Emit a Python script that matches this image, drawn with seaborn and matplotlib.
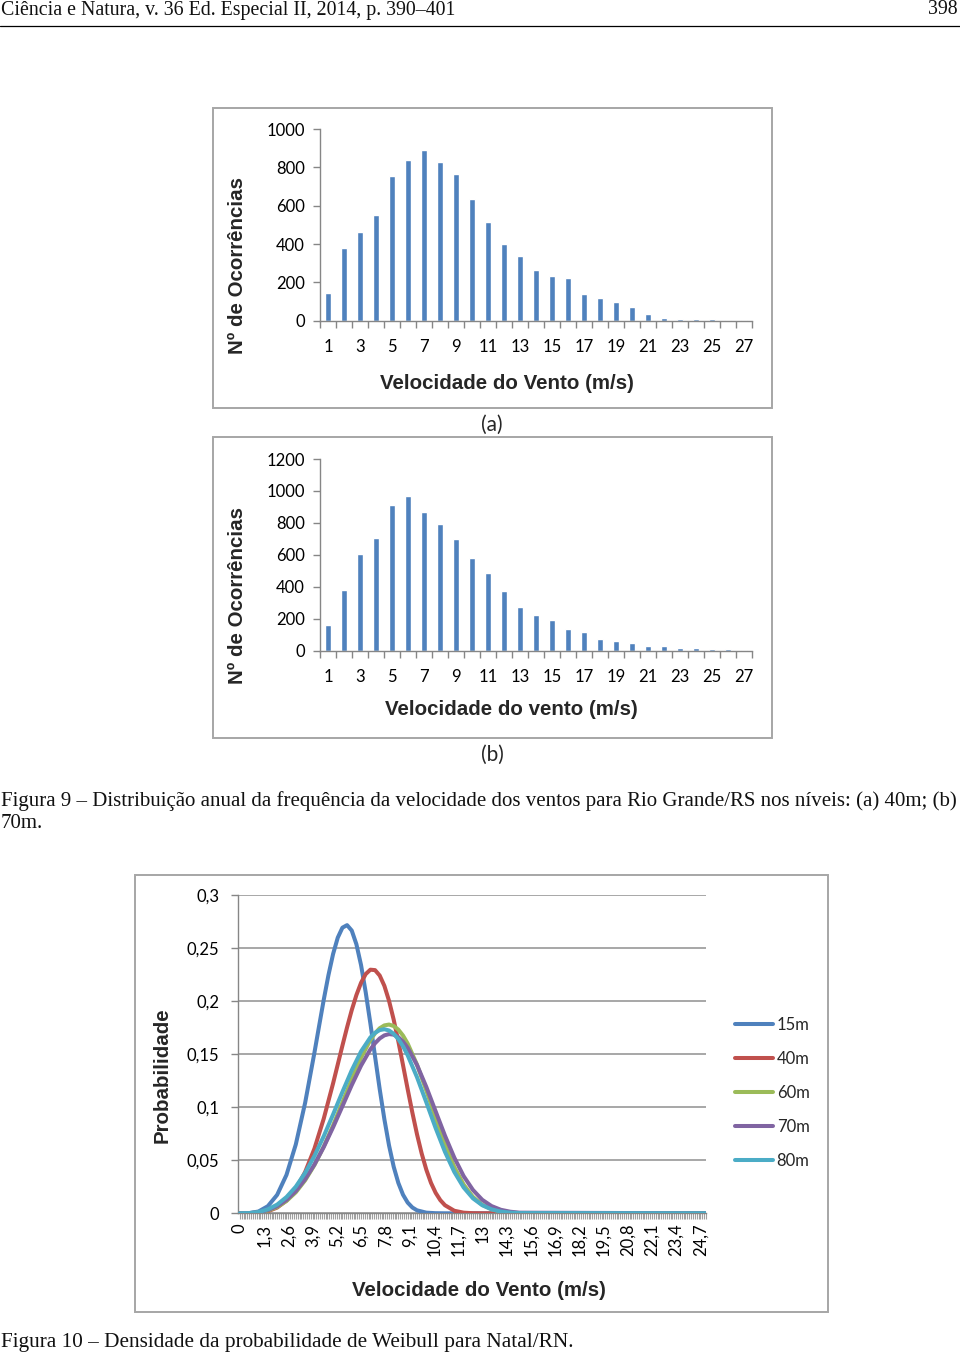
import numpy as np
import pandas as pd
import matplotlib
matplotlib.use("Agg")
import matplotlib.pyplot as plt
import seaborn as sns
from matplotlib.patches import Rectangle
from matplotlib.lines import Line2D

# ---------------- data ----------------
vel_classes = ["1", "2", "3", "4", "5", "6", "7", "8", "9", "10", "11", "12", "13", "14",
               "15", "16", "17", "18", "19", "20", "21", "22", "23", "24", "25", "26", "27"]
ocorr_40m = [144, 381, 463, 551, 753, 838, 890, 826, 767, 633, 515, 400, 336, 264,
             233, 224, 139, 117, 97, 70, 37, 16, 10, 7, 8, 4, 2]
ocorr_70m = [158, 381, 608, 704, 910, 967, 867, 792, 698, 583, 487, 375, 273, 225,
             194, 133, 117, 75, 60, 50, 27, 27, 19, 19, 10, 8, 2]
bar_tick_labels = ["1", "3", "5", "7", "9", "11", "13", "15", "17", "19", "21", "23", "25", "27"]
ticks_a = [0, 200, 400, 600, 800, 1000]
ticks_b = [0, 200, 400, 600, 800, 1000, 1200]

# Weibull density curves (Natal/RN)
vel_15m = [0, 0.5, 1, 1.5, 2, 2.5, 3, 3.5, 4,
           4.25, 4.5, 4.75, 5, 5.25, 5.5, 5.75, 6, 6.25, 6.5, 6.75, 7, 7.25, 7.5, 7.75,
           8, 8.25, 8.5, 8.75, 9, 9.25,
           9.5, 10, 10.5, 11, 25]
prob_15m = [0, 0.0002, 0.0017, 0.0067, 0.0174, 0.0362, 0.0649, 0.1041, 0.1515,
            0.1766, 0.2014, 0.2244, 0.2444, 0.2598, 0.2692, 0.2716, 0.2665, 0.2536, 0.2339,
            0.2082, 0.1789, 0.1478, 0.1170, 0.0887, 0.0640, 0.0439, 0.0286, 0.0175, 0.0101,
            0.0055,
            0.0028, 0.0006, 0.0001, 0, 0]
vel_40m = [0, 0.5, 1, 1.5, 2, 2.5, 3, 3.5, 4, 4.5, 5, 5.5,
           5.75, 6, 6.25, 6.5, 6.75, 7, 7.25, 7.5, 7.75, 8, 8.25, 8.5, 8.75, 9, 9.25, 9.5,
           9.75, 10, 10.25, 10.5, 10.75,
           11, 11.5, 12, 12.5, 13, 25]
prob_40m = [0, 0.0000, 0.0005, 0.0019, 0.0054, 0.0120, 0.0228, 0.0389, 0.0610, 0.0893,
            0.1225, 0.1580,
            0.1753, 0.1915, 0.2057, 0.2173, 0.2255, 0.2296, 0.2292, 0.2241, 0.2144, 0.2003,
            0.1825, 0.1620, 0.1397, 0.1170, 0.0950, 0.0745, 0.0564, 0.0411, 0.0287, 0.0193,
            0.0124,
            0.0076, 0.0024, 0.0006, 0.0001, 0, 0]
vel_alt = [0, 0.5, 1, 1.5, 2, 2.5, 3, 3.5, 4, 4.5, 5, 5.5, 6, 6.5, 7,
           7.25, 7.5, 7.75, 8, 8.25, 8.5, 8.75, 9,
           9.5, 10, 10.5, 11, 11.5, 12, 12.5, 13, 13.5, 14, 14.5, 15, 25]
prob_60m = [0, 0.0001, 0.0007, 0.0025, 0.0059, 0.0116, 0.0198, 0.0311, 0.0455, 0.0629,
            0.0829, 0.1045, 0.1264, 0.1467, 0.1634,
            0.1697, 0.1744, 0.1771, 0.1779, 0.1765, 0.1731, 0.1675, 0.1600,
            0.1401, 0.1157, 0.0897, 0.0649, 0.0436, 0.0271, 0.0154, 0.0080, 0.0038, 0.0016,
            0.0006, 0.0002, 0]
prob_70m = [0, 0.0001, 0.0009, 0.0030, 0.0067, 0.0126, 0.0209, 0.0321, 0.0460, 0.0625,
            0.0811, 0.1009, 0.1208, 0.1392, 0.1545,
            0.1603, 0.1648, 0.1677, 0.1689, 0.1684, 0.1660, 0.1618, 0.1560,
            0.1398, 0.1191, 0.0961, 0.0732, 0.0525, 0.0351, 0.0220, 0.0127, 0.0068, 0.0033,
            0.0015, 0.0006, 0]
prob_80m = [0, 0.0002, 0.0012, 0.0037, 0.0082, 0.0153, 0.0251, 0.0381, 0.0541, 0.0727,
            0.0932, 0.1144, 0.1348, 0.1526, 0.1658,
            0.1701, 0.1727, 0.1735, 0.1723, 0.1692, 0.1642, 0.1574, 0.1489,
            0.1283, 0.1046, 0.0803, 0.0579, 0.0390, 0.0244, 0.0141, 0.0076, 0.0037, 0.0016,
            0.0006, 0.0002, 0]
alturas = ["15m", "40m", "60m", "70m", "80m"]
weib_xticks = [0, 1.3, 2.6, 3.9, 5.2, 6.5, 7.8, 9.1, 10.4, 11.7, 13, 14.3, 15.6, 16.9,
               18.2, 19.5, 20.8, 22.1, 23.4, 24.7]
weib_xticklabels = ["0", "1,3", "2,6", "3,9", "5,2", "6,5", "7,8", "9,1", "10,4", "11,7", "13",
                    "14,3", "15,6", "16,9", "18,2", "19,5", "20,8", "22,1", "23,4", "24,7"]
weib_yticks = [0, 0.05, 0.1, 0.15, 0.2, 0.25, 0.3]
weib_yticklabels = ["0", "0,05", "0,1", "0,15", "0,2", "0,25", "0,3"]

# ---------------- style ----------------
sns.set_theme(style="ticks")
TICKF = ["Lato", "DejaVu Sans"]
TITLEF = ["Liberation Sans", "DejaVu Sans"]
SERIF = ["Liberation Serif", "DejaVu Serif"]
plt.rcParams["font.family"] = TICKF
BLUE = "#4f81bd"
GRAY = "#868686"
FRAME = "#a6a6a6"
palette = {"15m": "#4f81bd", "40m": "#c0504d", "60m": "#9bbb59", "70m": "#8064a2", "80m": "#4bacc6"}

W, H = 960, 1357
fig = plt.figure(figsize=(W / 100, H / 100), dpi=100)
fig.patch.set_facecolor("white")


def rect(x0, y_top, x1, y_bot):
    return [x0 / W, 1 - y_bot / H, (x1 - x0) / W, (y_bot - y_top) / H]


def frame(x0, y0, x1, y1):
    fig.add_artist(Rectangle((x0 / W, 1 - y1 / H), (x1 - x0) / W, (y1 - y0) / H,
                             transform=fig.transFigure, fill=False, edgecolor=FRAME, lw=1.4))


def bar_panel(box, values, yticks, xlabel, xl_x, yl_y):
    ax = fig.add_axes(box)
    df = pd.DataFrame({"vel": vel_classes, "n": values})
    sns.barplot(data=df, x="vel", y="n", order=vel_classes, color=BLUE, saturation=1,
                width=0.38, ax=ax)
    ax.set_xlim(-0.5, 26.5)
    ax.set_ylim(0, yticks[-1])
    for s in ["top", "right"]:
        ax.spines[s].set_visible(False)
    for s in ["left", "bottom"]:
        ax.spines[s].set_color(GRAY)
        ax.spines[s].set_linewidth(1.0)
    ax.set_yticks(yticks)
    ax.set_yticklabels([str(t) for t in yticks])
    ax.tick_params(axis="y", direction="out", length=5, width=1, color=GRAY, pad=6,
                   labelsize=12, labelcolor="black", left=True)
    ax.set_xticks(list(range(0, 27, 2)))
    ax.set_xticklabels(bar_tick_labels)
    ax.tick_params(axis="x", which="major", length=0, pad=13, labelsize=12, labelcolor="black")
    ax.set_xticks([i - 0.5 for i in range(28)], minor=True)
    ax.tick_params(axis="x", which="minor", direction="out", length=5, width=1, color=GRAY,
                   bottom=True)
    ax.set_xlabel(xlabel, fontsize=14.8, fontweight="bold", family=TITLEF, va="center")
    ax.xaxis.set_label_coords(xl_x, yl_y)
    ax.set_ylabel("Nº de Ocorrências", fontsize=14.8, fontweight="bold", family=TITLEF,
                  va="center")
    ax.yaxis.set_label_coords(-0.19, 0.29)
    ax.patch.set_alpha(0)
    return ax


# ---------------- panel (a) ----------------
frame(213, 108, 772, 408)
bar_panel(rect(320, 129, 752, 320.7), ocorr_40m, ticks_a, "Velocidade do Vento (m/s)",
          0.433, -0.330)
fig.text(492 / W, 1 - 425 / H, "(a)", ha="center", va="center", fontsize=15, family=TICKF)

# ---------------- panel (b) ----------------
frame(213, 437, 772, 738)
bar_panel(rect(320, 459, 752, 650.7), ocorr_70m, ticks_b, "Velocidade do vento (m/s)",
          0.444, -0.309)
fig.text(492 / W, 1 - 755 / H, "(b)", ha="center", va="center", fontsize=15, family=TICKF)

# ---------------- panel (c) ----------------
frame(135, 875, 828, 1312)
axc = fig.add_axes(rect(238, 895, 706, 1213.3))
series = {"15m": (vel_15m, prob_15m), "40m": (vel_40m, prob_40m), "60m": (vel_alt, prob_60m),
          "70m": (vel_alt, prob_70m), "80m": (vel_alt, prob_80m)}
long = pd.concat([pd.DataFrame({"vel": v, "prob": p, "altura": a})
                  for a, (v, p) in series.items()], ignore_index=True)
sns.lineplot(data=long, x="vel", y="prob", hue="altura", hue_order=alturas, palette=palette,
             linewidth=2.9, ax=axc, zorder=3)
for ln in axc.get_lines():
    ln.set_solid_joinstyle("round")
    ln.set_solid_capstyle("round")
axc.set_xlim(-0.1, 24.93)
axc.set_ylim(0, 0.3)
axc.yaxis.grid(True, color="#909090", lw=1.1)
axc.set_axisbelow(True)
for s in ["top", "right"]:
    axc.spines[s].set_visible(False)
for s in ["left", "bottom"]:
    axc.spines[s].set_color(GRAY)
    axc.spines[s].set_linewidth(1.0)
axc.set_yticks(weib_yticks)
axc.set_yticklabels(weib_yticklabels)
axc.tick_params(axis="y", direction="out", length=5, width=1, color=GRAY, pad=8.5,
                labelsize=12, labelcolor="black", left=True)
axc.set_xticks(weib_xticks)
axc.set_xticklabels(weib_xticklabels, rotation=90)
axc.tick_params(axis="x", which="major", direction="out", length=4, width=0.8, color="#a0a0a0",
                pad=3.5, labelsize=12, labelcolor="black", bottom=True)
axc.set_xticks([i / 10 for i in range(0, 251)], minor=True)
axc.tick_params(axis="x", which="minor", direction="out", length=4, width=0.8, color="#a0a0a0",
                bottom=True)
axc.set_xlabel("Velocidade do Vento (m/s)", fontsize=14.8, fontweight="bold", family=TITLEF,
               va="center")
axc.xaxis.set_label_coords(0.515, -0.241)
axc.set_ylabel("Probabilidade", fontsize=14.8, fontweight="bold", family=TITLEF, va="center")
axc.yaxis.set_label_coords(-0.163, 0.4345)
handles, labels = axc.get_legend_handles_labels()
axc.legend(handles, labels, loc="center left", bbox_to_anchor=(735 / W, 1 - 1093 / H),
           bbox_transform=fig.transFigure, frameon=False, borderpad=0, borderaxespad=0,
           handlelength=2.3, handletextpad=0.2, labelspacing=1.08, fontsize=12)
axc.patch.set_alpha(0)

# ---------------- page texts ----------------
renderer = fig.canvas.get_renderer()


def fit_text(x, y, s, target_w, size0, **kw):
    t = fig.text(x / W, 1 - y / H, s, fontsize=size0, **kw)
    w = t.get_window_extent(renderer).width
    t.set_fontsize(size0 * target_w / w)
    return t


hdr = fit_text(1, 10, "Ciência e Natura, v. 36 Ed. Especial II, 2014, p. 390–401", 451, 13,
               ha="left", va="center", family=SERIF, color="#111111")
fig.text(958 / W, 1 - 10 / H, "398", ha="right", va="center", fontsize=hdr.get_fontsize(),
         family=SERIF, color="#111111")
fig.add_artist(Line2D([0, 1], [1 - 25.5 / H] * 2, transform=fig.transFigure, color="black",
                      lw=0.9))

cap = fit_text(1, 801, "Figura 9 – Distribuição anual da frequência da velocidade dos ventos "
               "para Rio Grande/RS nos níveis: (a) 40m; (b)", 952, 13,
               ha="left", va="center", family=SERIF, color="#111111")
fig.text(1 / W, 1 - 824 / H, "70m.", ha="left", va="center", fontsize=cap.get_fontsize(),
         family=SERIF, color="#111111")
fit_text(1, 1342, "Figura 10 – Densidade da probabilidade de Weibull para Natal/RN.", 568, 13,
         ha="left", va="center", family=SERIF, color="#111111")

fig.savefig("out.png", dpi=100, facecolor="white")
